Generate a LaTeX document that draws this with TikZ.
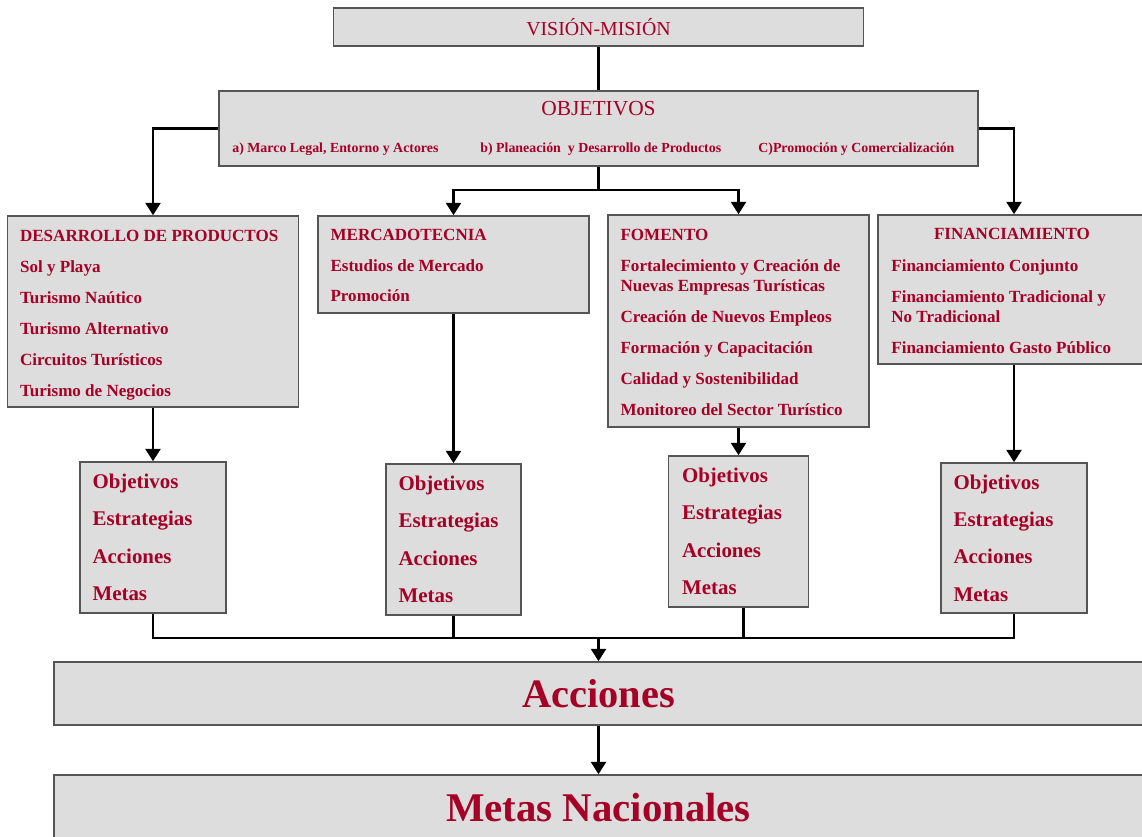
\documentclass[tikz,border=0pt]{standalone}
\usepackage{fontspec}
\setmainfont{Liberation Serif}
\usetikzlibrary{positioning,arrows.meta}
\definecolor{boxfill}{RGB}{221,221,221}
\definecolor{boxedge}{RGB}{85,85,85}
\definecolor{txtred}{RGB}{165,0,38}
\newdimen\px \px=0.02cm

\begin{document}
\begin{tikzpicture}[x=0.02cm,y=-0.02cm,
  box/.style={rectangle,fill=boxfill,draw=boxedge,line width=0.9pt,inner sep=0pt},
  boxtxt/.style={text=txtred,inner sep=0pt,align=left,font=\bfseries\fontsize{9.7}{17.6}\selectfont},
  itemtxt/.style={boxtxt,font=\bfseries\fontsize{9.7}{11.3}\selectfont},
  listtxt/.style={text=txtred,inner sep=0pt,align=left,font=\bfseries\fontsize{11.9}{21.3}\selectfont},
  subtxt/.style={text=txtred,inner sep=0pt,anchor=west,font=\bfseries\fontsize{7.9}{9}\selectfont},
  conn/.style={line width=1.3pt},
  arr/.style={conn,-{Triangle[width=8.5pt,length=7pt]}}]

\useasboundingbox (0,0) rectangle (1142,836);

% top boxes
\node[box,minimum width=530\px,minimum height=38\px,text=txtred,font=\fontsize{11.3}{13}\selectfont] (vis) at (598.5,27) {VISIÓN-MISIÓN};

\node[box,minimum width=759\px,minimum height=75\px] (obj) at (598.5,128.5) {};

\node[text=txtred,inner sep=0pt,font=\fontsize{12.2}{14}\selectfont] (objT) at (598.5,109) {OBJETIVOS};

\node[subtxt] (objA) at (232,149) {a) Marco Legal, Entorno y Actores};

\node[subtxt] (objB) at (480,149) {b) Planeación\ \ y Desarrollo de Productos};

\node[subtxt] (objC) at (758,149) {C)Promoción y Comercialización};

% area boxes
\node[box,minimum width=291\px,minimum height=191\px] (des) at (153,311.5) {};

\node[boxtxt,right=13\px of des.west,yshift=-4\px] (desT) {DESARROLLO DE PRODUCTOS\\Sol y Playa\\Turismo Naútico\\Turismo Alternativo\\Circuitos Turísticos\\Turismo de Negocios};

\node[box,minimum width=271\px,minimum height=97\px] (mer) at (453.5,264.5) {};

\node[boxtxt,right=13\px of mer.west,yshift=-1\px] (merT) {MERCADOTECNIA\\Estudios de Mercado\\Promoción};

\node[box,minimum width=261\px,minimum height=212\px] (fom) at (738.5,321) {};

\node[itemtxt,right=13\px of fom.west,yshift=-1.5\px] (fomT) {FOMENTO\\[6.3pt]Fortalecimiento y Creación de\\Nuevas Empresas Turísticas\\[6.3pt]Creación de Nuevos Empleos\\[6.3pt]Formación y Capacitación\\[6.3pt]Calidad y Sostenibilidad\\[6.3pt]Monitoreo del Sector Turístico};

\node[box,minimum width=265\px,minimum height=149\px] (fin) at (1010.5,289.5) {};

\node[boxtxt] (finT) at (1012,234) {FINANCIAMIENTO};

\node[itemtxt,anchor=west] (finL) at (891,306.5) {Financiamiento Conjunto\\[6.3pt]Financiamiento Tradicional y\\No Tradicional\\[6.3pt]Financiamiento Gasto Público};

% objective lists
\node[box,minimum width=146\px,minimum height=151\px] (o1) at (153,537.5) {};

\node[listtxt,right=13\px of o1.west] (o1T) {Objetivos\\Estrategias\\Acciones\\Metas};

\node[box,minimum width=135\px,minimum height=151\px] (o2) at (453.5,539.5) {};

\node[listtxt,right=13\px of o2.west] (o2T) {Objetivos\\Estrategias\\Acciones\\Metas};

\node[box,minimum width=140\px,minimum height=151\px] (o3) at (738.5,531.5) {};

\node[listtxt,right=14\px of o3.west] (o3T) {Objetivos\\Estrategias\\Acciones\\Metas};

\node[box,minimum width=146\px,minimum height=150\px] (o4) at (1014,538) {};

\node[listtxt,right=13\px of o4.west] (o4T) {Objetivos\\Estrategias\\Acciones\\Metas};

% bottom bands
\node[box,minimum width=1089\px,minimum height=63\px,text=txtred,font=\bfseries\fontsize{23}{26}\selectfont] (acc) at (598.5,693.5) {Acciones};

\node[box,minimum width=1089\px,minimum height=65\px,text=txtred,font=\bfseries\fontsize{23.2}{26}\selectfont] (met) at (598.5,807.5) {Metas Nacionales};

% connectors
\draw[conn] (vis.south) -- (obj.north);

\draw[arr] (obj.west) -| (des.north);

\draw[arr] (obj.east) -| (o4.north |- fin.north);

\coordinate (ofork) at (598.5,190);

\draw[conn] (obj.south) -- (ofork);

\draw[arr] (ofork) -| (mer.north);

\draw[arr] (ofork) -| (fom.north);

\draw[arr] (des.south) -- (o1.north);

\draw[arr] (mer.south) -- (o2.north);

\draw[arr] (fom.south) -- (o3.north);

\draw[arr] (fin.south -| o4.north) -- (o4.north);

\coordinate (afork) at (598.5,638);

\draw[conn] (o1.south) |- (afork);

\draw[conn] (o2.south) |- (afork);

\draw[conn] ([xshift=5\px]o3.south) |- (afork);

\draw[conn] (o4.south) |- (afork);

\draw[arr] (afork) -- (acc.north);

\draw[arr] (acc.south) -- (met.north);

\end{tikzpicture}
\end{document}
